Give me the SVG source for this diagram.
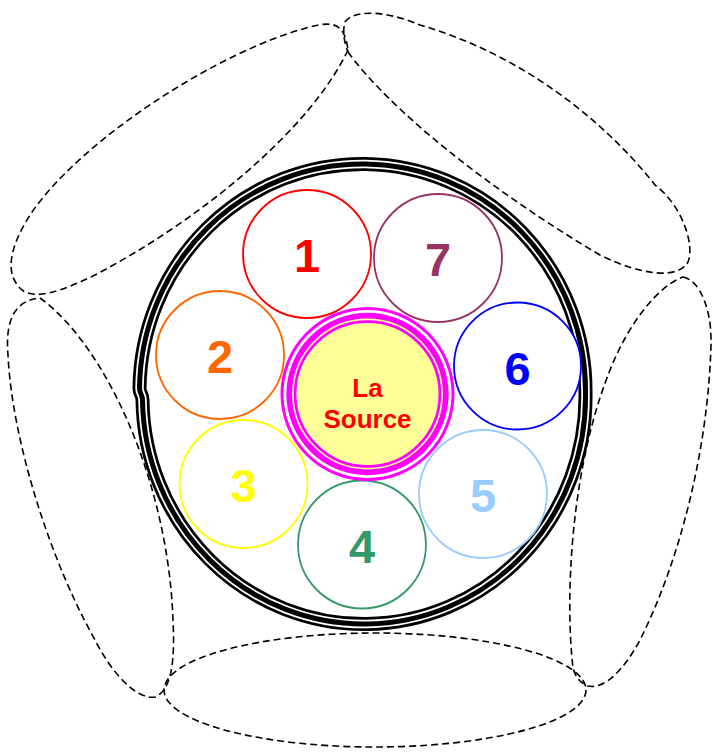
<svg xmlns="http://www.w3.org/2000/svg" width="712" height="752" viewBox="0 0 712 752">
  <style>
    .petal { fill: none; stroke: #000; stroke-width: 1.6; stroke-dasharray: 7 4; }
    .node { fill: #fff; stroke-width: 1.8; }
    .num { font-family: "Liberation Sans", Arial, sans-serif; font-weight: bold; font-size: 47px; text-anchor: middle; }
    .src { font-family: "Liberation Sans", Arial, sans-serif; font-weight: bold; font-size: 26px; text-anchor: middle; fill: #FF0000; }
  </style>
  <defs>
    <path id="ringPath" d="M142.5,400 C142.5,394 139.5,394 139.5,388 A223 227 0 0 1 585.5,394 A221.5 227 0 0 1 142.5,400"/>
  </defs>
  <rect width="712" height="752" fill="#fff"/>

  <g id="petals">
    <path id="petal-top-left" class="petal" d="M348,50 C310,130 200,220 95,275 C60,292 35,300 22,290 C5,275 8,250 30,215 C80,140 220,50 310,27 C335,20 345,25 348,50 Z"/>
    <path id="petal-top-right" class="petal" d="M348,52 C390,110 490,190 600,255 C640,275 678,280 688,262 C695,245 682,205 655,185 C620,140 540,60 420,25 C390,12 355,8 345,22 C342,32 345,45 348,52 Z"/>
    <path id="petal-right" class="petal" d="M683,277 C700,280 712,310 711,345 C708,450 680,560 640,640 C625,668 605,690 588,686 C578,682 575,675 573,668 C565,600 570,470 610,370 C630,320 660,285 683,277 Z"/>
    <ellipse id="petal-bottom" class="petal" cx="375" cy="690" rx="211" ry="57"/>
    <path id="petal-left" class="petal" d="M40,298 C105,345 168,480 173,620 C175,660 172,690 155,697 C135,700 110,670 95,640 C50,560 12,440 8,355 C5,320 15,300 40,298 Z"/>
  </g>

  <g id="ring">
    <ellipse cx="362.5" cy="394" rx="223" ry="227" fill="#fff"/>
    <use href="#ringPath" fill="none" stroke="#000" stroke-width="14"/>
    <use href="#ringPath" fill="none" stroke="#fff" stroke-width="8.5"/>
    <use href="#ringPath" fill="none" stroke="#000" stroke-width="5"/>
  </g>

  <g id="node-1">
    <circle class="node" cx="307" cy="254" r="64" stroke="#FF0000"/>
    <text class="num" x="307" y="272" fill="#FF0000">1</text>
  </g>
  <g id="node-7">
    <circle class="node" cx="438" cy="258" r="64" stroke="#993366"/>
    <text class="num" x="438" y="276" fill="#993366">7</text>
  </g>
  <g id="node-2">
    <circle class="node" cx="220" cy="355" r="64" stroke="#FF6600"/>
    <text class="num" x="220" y="373" fill="#FF6600">2</text>
  </g>
  <g id="node-6">
    <circle class="node" cx="517.5" cy="366" r="63.5" stroke="#0000FF"/>
    <text class="num" x="517.5" y="385" fill="#0000FF">6</text>
  </g>
  <g id="node-3">
    <circle class="node" cx="243.5" cy="484" r="64" stroke="#FFFF00"/>
    <text class="num" x="243.5" y="502" fill="#FFFF00">3</text>
  </g>
  <g id="node-4">
    <circle class="node" cx="362" cy="544.5" r="64" stroke="#339966"/>
    <text class="num" x="362" y="563" fill="#339966">4</text>
  </g>
  <g id="node-5">
    <circle class="node" cx="483" cy="494" r="64" stroke="#99CCFF"/>
    <text class="num" x="483" y="512" fill="#99CCFF">5</text>
  </g>

  <g id="node-source">
    <circle cx="367.5" cy="394" r="85.5" fill="#fff" stroke="#FF00FF" stroke-width="3"/>
    <circle cx="367.5" cy="394" r="78.3" fill="#FFFF99" stroke="#FF00FF" stroke-width="5.7"/>
    <circle cx="367.5" cy="394" r="72.4" fill="none" stroke="#FF00FF" stroke-width="2.7"/>
    <text class="src" x="367.5" y="397">La</text>
    <text class="src" x="367.5" y="428">Source</text>
  </g>
</svg>
